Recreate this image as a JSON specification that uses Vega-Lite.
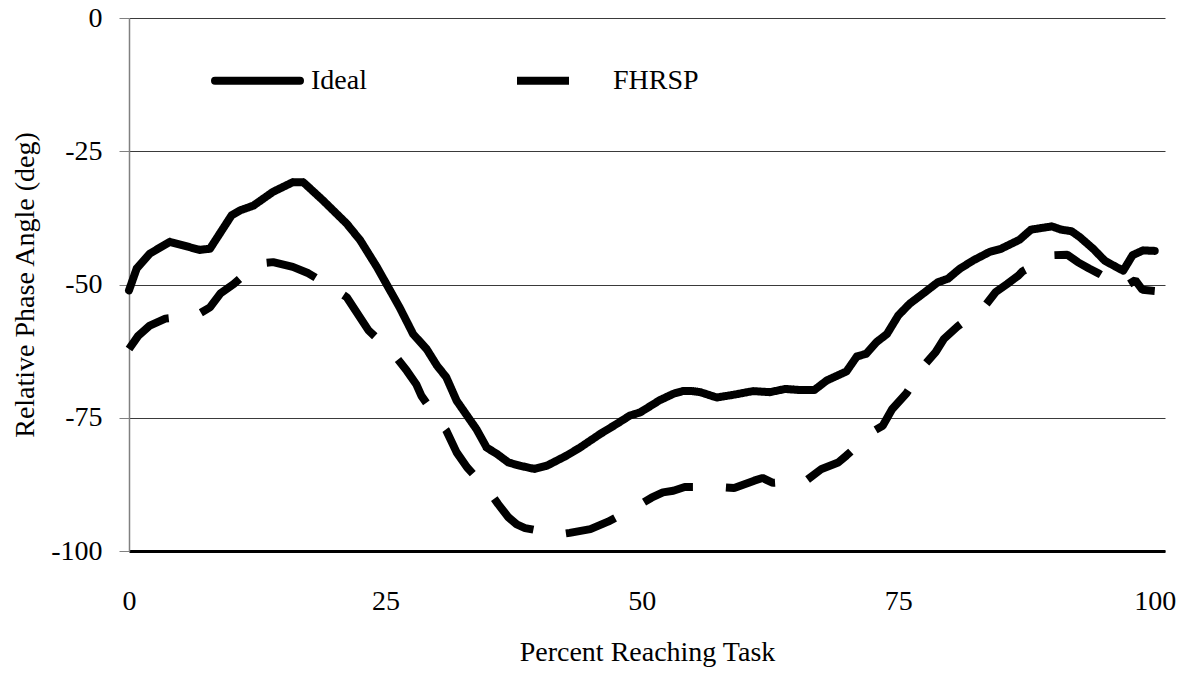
{
  "$schema": "https://vega.github.io/schema/vega-lite/v6.json",
  "width": 1036,
  "height": 533,
  "autosize": {"type": "none"},
  "padding": {"left": 129, "top": 18, "right": 22, "bottom": 125},
  "background": "white",
  "config": {
    "view": {"stroke": null},
    "font": "Times New Roman, Liberation Serif, serif",
    "style": {"guide-label": {"font": "Times New Roman, Liberation Serif, serif"}, "guide-title": {"font": "Times New Roman, Liberation Serif, serif"}}
  },
  "datasets": {
    "ideal": [
      {"pct": 0, "angle": -51.1}, {"pct": 0.75, "angle": -47.0}, {"pct": 2.03, "angle": -44.2}, {"pct": 3.99, "angle": -42.0},
      {"pct": 6.88, "angle": -43.5}, {"pct": 7.89, "angle": -43.3}, {"pct": 10.01, "angle": -37.0}, {"pct": 10.82, "angle": -36.1},
      {"pct": 12.13, "angle": -35.2}, {"pct": 14.05, "angle": -32.6}, {"pct": 15.97, "angle": -30.8}, {"pct": 16.98, "angle": -30.8},
      {"pct": 18.9, "angle": -34.2}, {"pct": 21.23, "angle": -38.6}, {"pct": 22.54, "angle": -41.7}, {"pct": 24.16, "angle": -46.7},
      {"pct": 26.38, "angle": -54.3}, {"pct": 27.7, "angle": -59.3}, {"pct": 29.01, "angle": -62.1}, {"pct": 30.02, "angle": -65.2},
      {"pct": 30.93, "angle": -67.4}, {"pct": 31.94, "angle": -71.8}, {"pct": 33.86, "angle": -77.1}, {"pct": 34.87, "angle": -80.6},
      {"pct": 35.88, "angle": -81.8}, {"pct": 37.0, "angle": -83.4}, {"pct": 38.11, "angle": -84.0}, {"pct": 39.52, "angle": -84.6},
      {"pct": 40.74, "angle": -84.0}, {"pct": 42.66, "angle": -82.1}, {"pct": 43.97, "angle": -80.6}, {"pct": 45.89, "angle": -78.1},
      {"pct": 47.51, "angle": -76.2}, {"pct": 48.82, "angle": -74.6}, {"pct": 49.83, "angle": -74.0}, {"pct": 51.75, "angle": -71.7},
      {"pct": 53.07, "angle": -70.5}, {"pct": 53.98, "angle": -70.0}, {"pct": 54.89, "angle": -70.0}, {"pct": 55.69, "angle": -70.2},
      {"pct": 57.3, "angle": -71.2}, {"pct": 58.9, "angle": -70.7}, {"pct": 60.85, "angle": -70.0}, {"pct": 62.47, "angle": -70.2},
      {"pct": 63.98, "angle": -69.6}, {"pct": 65.4, "angle": -69.8}, {"pct": 66.81, "angle": -69.8}, {"pct": 68.03, "angle": -68.0},
      {"pct": 69.95, "angle": -66.3}, {"pct": 70.96, "angle": -63.5}, {"pct": 71.87, "angle": -63.0}, {"pct": 72.88, "angle": -60.8},
      {"pct": 73.89, "angle": -59.3}, {"pct": 75.0, "angle": -55.8}, {"pct": 76.11, "angle": -53.6}, {"pct": 77.42, "angle": -51.7},
      {"pct": 78.84, "angle": -49.6}, {"pct": 79.85, "angle": -48.9}, {"pct": 80.96, "angle": -47.1}, {"pct": 82.28, "angle": -45.5},
      {"pct": 83.89, "angle": -43.9}, {"pct": 85.0, "angle": -43.3}, {"pct": 86.82, "angle": -41.6}, {"pct": 87.94, "angle": -39.7},
      {"pct": 89.96, "angle": -39.1}, {"pct": 90.87, "angle": -39.7}, {"pct": 91.88, "angle": -40.0}, {"pct": 92.69, "angle": -41.1},
      {"pct": 94.0, "angle": -43.3}, {"pct": 95.11, "angle": -45.5}, {"pct": 96.22, "angle": -46.7}, {"pct": 96.93, "angle": -47.4},
      {"pct": 97.84, "angle": -44.5}, {"pct": 98.85, "angle": -43.6}, {"pct": 100, "angle": -43.7}
    ],
    "fhrsp": [
      {"pct": 0, "angle": -62.1}, {"pct": 0.91, "angle": -59.6}, {"pct": 2.03, "angle": -57.7}, {"pct": 3.54, "angle": -56.4},
      {"pct": 6.57, "angle": -55.8}, {"pct": 7.89, "angle": -54.3}, {"pct": 8.9, "angle": -51.7}, {"pct": 10.21, "angle": -49.9},
      {"pct": 12.44, "angle": -46.1}, {"pct": 14.05, "angle": -45.8}, {"pct": 15.97, "angle": -46.7}, {"pct": 17.49, "angle": -47.9},
      {"pct": 20.22, "angle": -51.1}, {"pct": 21.23, "angle": -52.4}, {"pct": 23.35, "angle": -58.6}, {"pct": 25.78, "angle": -63.0},
      {"pct": 27.09, "angle": -66.2}, {"pct": 28.0, "angle": -68.7}, {"pct": 28.51, "angle": -70.9}, {"pct": 30.33, "angle": -75.9},
      {"pct": 30.93, "angle": -77.4}, {"pct": 31.94, "angle": -81.5}, {"pct": 32.95, "angle": -84.3}, {"pct": 35.18, "angle": -89.0},
      {"pct": 35.99, "angle": -91.2}, {"pct": 37.0, "angle": -93.7}, {"pct": 37.8, "angle": -95.0}, {"pct": 38.61, "angle": -95.7},
      {"pct": 41.85, "angle": -96.9}, {"pct": 42.96, "angle": -96.6}, {"pct": 44.98, "angle": -95.9}, {"pct": 46.7, "angle": -94.5},
      {"pct": 49.63, "angle": -91.5}, {"pct": 50.94, "angle": -90.0}, {"pct": 52.05, "angle": -89.0}, {"pct": 53.07, "angle": -88.7},
      {"pct": 54.18, "angle": -88.0}, {"pct": 57.41, "angle": -88.0}, {"pct": 59.0, "angle": -88.2}, {"pct": 60.95, "angle": -86.8},
      {"pct": 61.76, "angle": -86.3}, {"pct": 62.77, "angle": -87.2}, {"pct": 66.0, "angle": -86.8}, {"pct": 67.52, "angle": -84.6},
      {"pct": 69.14, "angle": -83.4}, {"pct": 69.94, "angle": -82.1}, {"pct": 72.67, "angle": -77.4}, {"pct": 73.48, "angle": -76.5},
      {"pct": 74.39, "angle": -73.4}, {"pct": 75.8, "angle": -70.4}, {"pct": 77.63, "angle": -64.9}, {"pct": 78.64, "angle": -62.7},
      {"pct": 79.45, "angle": -60.2}, {"pct": 80.76, "angle": -57.9}, {"pct": 83.49, "angle": -53.9}, {"pct": 84.5, "angle": -51.4},
      {"pct": 85.61, "angle": -49.9}, {"pct": 86.72, "angle": -48.3}, {"pct": 87.13, "angle": -47.5}, {"pct": 90.06, "angle": -44.5},
      {"pct": 91.48, "angle": -44.4}, {"pct": 92.49, "angle": -45.8}, {"pct": 93.6, "angle": -47.0}, {"pct": 94.61, "angle": -48.0},
      {"pct": 96.9, "angle": -50.6}, {"pct": 98.1, "angle": -49.2}, {"pct": 98.8, "angle": -51.0}, {"pct": 100, "angle": -51.2}
    ]
  },
  "encoding": {
    "x": {
      "field": "pct", "type": "quantitative",
      "scale": {"domain": [0, 101], "nice": false, "zero": false},
      "axis": {
        "values": [0, 25, 50, 75, 100], "title": "Percent Reaching Task",
        "grid": false, "ticks": false, "tickSize": 0,
        "domainColor": "black", "domainWidth": 3,
        "labelFont": "Times New Roman, Liberation Serif, serif", "labelFontSize": 28, "labelColor": "black",
        "labelPadding": 58, "labelBaseline": "alphabetic", "labelFlush": false,
        "titleFont": "Times New Roman, Liberation Serif, serif", "titleFontSize": 28, "titleFontWeight": "normal", "titleColor": "black",
        "titleBaseline": "alphabetic", "titleY": 109
      }
    },
    "y": {
      "field": "angle", "type": "quantitative",
      "scale": {"domain": [-100, 0], "nice": false, "zero": false},
      "axis": {
        "values": [-100, -75, -50, -25, 0], "title": "Relative Phase Angle (deg)",
        "labelExpr": "'' + datum.value",
        "grid": true, "gridColor": "#3a3a3a", "gridWidth": 1,
        "tickSize": 10, "tickColor": "#808080", "domainColor": "#808080", "domainWidth": 1.5,
        "labelFont": "Times New Roman, Liberation Serif, serif", "labelFontSize": 28, "labelColor": "black",
        "labelPadding": 17, "labelFlush": false,
        "titleFont": "Times New Roman, Liberation Serif, serif", "titleFontSize": 28, "titleFontWeight": "normal", "titleColor": "black",
        "titleAngle": 270, "titleX": -96, "titleY": 266.5, "titleAlign": "center", "titleBaseline": "alphabetic"
      }
    },
    "strokeDash": {
      "field": "series", "type": "nominal",
      "scale": {"domain": ["Ideal", "FHRSP"], "range": [[1, 0], [52, 33]]},
      "legend": {
        "orient": "none", "legendX": 82, "legendY": 16, "direction": "horizontal", "title": null,
        "symbolType": "stroke", "symbolSize": 7225, "symbolStrokeWidth": 8, "symbolStrokeColor": "black",
        "labelFont": "Times New Roman, Liberation Serif, serif", "labelFontSize": 28, "labelColor": "black", "labelFontWeight": "normal",
        "labelOffset": 7, "columnPadding": 134, "labelLimit": 0, "padding": 0,
        "encode": {"symbols": {"update": {"strokeCap": [{"test": "datum.value === 'Ideal'", "value": "round"}, {"value": "butt"}]}}}
      }
    }
  },
  "layer": [
    {
      "data": {"name": "ideal"},
      "transform": [{"calculate": "'Ideal'", "as": "series"}],
      "mark": {"type": "line", "color": "black", "strokeWidth": 8, "strokeCap": "round", "strokeJoin": "round"}
    },
    {
      "data": {"name": "fhrsp"},
      "transform": [{"calculate": "'FHRSP'", "as": "series"}],
      "mark": {"type": "line", "color": "black", "strokeWidth": 8, "strokeCap": "butt", "strokeJoin": "bevel"}
    }
  ]
}
